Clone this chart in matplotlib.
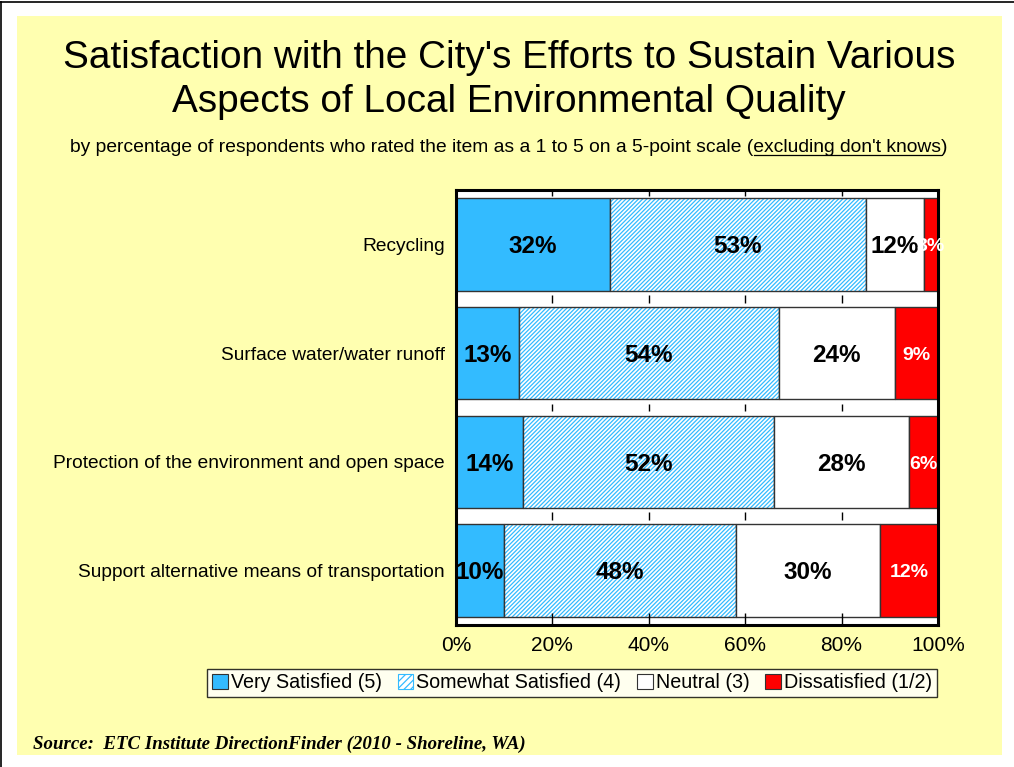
import matplotlib
matplotlib.use('Agg')
import matplotlib.pyplot as plt
from matplotlib.lines import Line2D
from matplotlib.patches import Rectangle, Patch
import numpy as np

categories = ['Recycling', 'Surface water/water runoff',
              'Protection of the environment and open space',
              'Support alternative means of transportation']
very_satisfied = [32, 13, 14, 10]
somewhat_satisfied = [53, 54, 52, 48]
neutral = [12, 24, 28, 30]
dissatisfied = [3, 9, 6, 12]
series_names = ['Very Satisfied (5)', 'Somewhat Satisfied (4)', 'Neutral (3)', 'Dissatisfied (1/2)']
xticks = [0, 20, 40, 60, 80, 100]

BLUE = '#33BBFF'
RED = '#FF0000'
YELLOW = '#FFFFB0'

plt.rcParams['font.family'] = ['Liberation Sans', 'DejaVu Sans']
plt.rcParams['hatch.linewidth'] = 0.9

fig = plt.figure(figsize=(10.14, 7.67), dpi=100)
fig.patch.set_facecolor('white')

# yellow panel and partial black frame
fig.patches.append(Rectangle((17 / 1014, 1 - 755 / 767), 985 / 1014, 739 / 767,
                             transform=fig.transFigure, facecolor=YELLOW, edgecolor='none', zorder=-10))
fig.lines.append(Line2D([0.001, 0.001], [0, 0.998], transform=fig.transFigure, color='black', lw=1.2))
fig.lines.append(Line2D([0, 1], [0.998, 0.998], transform=fig.transFigure, color='black', lw=1.2))

ax = fig.add_axes([456 / 1014, 1 - 625 / 767, 482 / 1014, 435 / 767])
ax.set_zorder(2)
ax.set_facecolor('white')

y = np.arange(len(categories))
h = 0.85
left = np.zeros(len(categories))
vs = np.array(very_satisfied)
ss = np.array(somewhat_satisfied)
ne = np.array(neutral)
di = np.array(dissatisfied)

ax.barh(y, vs, left=left, height=h, color=BLUE, edgecolor='#333333', linewidth=1)
left = left + vs
ax.barh(y, ss, left=left, height=h, color='white', edgecolor=BLUE, hatch='////////', linewidth=0)
ax.barh(y, ss, left=left, height=h, color='none', edgecolor='#333333', linewidth=1)
left2 = left + ss
ax.barh(y, ne, left=left2, height=h, color='white', edgecolor='#333333', linewidth=1)
left3 = left2 + ne
ax.barh(y, di, left=left3, height=h, color=RED, edgecolor='#333333', linewidth=1)

dy = 0.02  # labels sit slightly below bar centre
for i in range(len(categories)):
    ax.text(vs[i] / 2, y[i] + dy, f'{vs[i]}%', ha='center', va='center', fontsize=17.5, fontweight='bold')
    ax.text(left[i] + ss[i] / 2, y[i] + dy, f'{ss[i]}%', ha='center', va='center', fontsize=17.5, fontweight='bold')
    ax.text(left2[i] + ne[i] / 2, y[i] + dy, f'{ne[i]}%', ha='center', va='center', fontsize=17.5, fontweight='bold')
    ax.text(left3[i] + di[i] / 2, y[i] + dy, f'{di[i]}%', ha='center', va='center', fontsize=14,
            fontweight='bold', color='white', clip_on=False)

ax.set_xlim(0, 100)
ax.set_ylim(len(categories) - 0.5, -0.5)
ax.set_yticks(y)
ax.set_yticklabels(categories, fontsize=13.8)
ax.tick_params(axis='y', length=0, pad=8)
ax.set_xticks(xticks)
ax.set_xticklabels([f'{t}%' for t in xticks], fontsize=15)
ax.tick_params(axis='x', direction='in', length=9, width=1, top=True, pad=8)
for t in ax.xaxis.get_major_ticks():
    t.tick2line.set_markersize(4)

# small tick marks in the gaps between bars
for b in np.arange(0.5, len(categories) - 0.5, 1.0):
    ax.vlines(xticks[1:-1], b - 0.035, b + 0.035, color='black', lw=1)

for s in ax.spines.values():
    s.set_linewidth(2.2)
    s.set_color('black')

handles = [Patch(facecolor=BLUE, edgecolor='#333333', lw=0.8),
           Patch(facecolor='white', edgecolor=BLUE, hatch='/////', lw=0.8),
           Patch(facecolor='white', edgecolor='#333333', lw=0.8),
           Patch(facecolor=RED, edgecolor='#333333', lw=0.8)]
leg = fig.legend(handles, series_names, loc='center', bbox_to_anchor=(572 / 1014, 1 - 683 / 767),
                 ncol=4, fontsize=14.2, frameon=True, fancybox=False, edgecolor='black',
                 handlelength=0.8, handleheight=0.8, handletextpad=0.15, columnspacing=0.8,
                 borderpad=0.25, borderaxespad=0)
leg.get_frame().set_linewidth(1)
leg.get_frame().set_facecolor('white')

# titles
fig.text(509 / 1014, 1 - 68 / 767, "Satisfaction with the City's Efforts to Sustain Various",
         ha='center', va='baseline', fontsize=27.9)
fig.text(509 / 1014, 1 - 112 / 767, 'Aspects of Local Environmental Quality',
         ha='center', va='baseline', fontsize=27.9)

pre = 'by percentage of respondents who rated the item as a 1 to 5 on a 5-point scale ('
und = "excluding don't knows"
post = ')'
sub = fig.text(509 / 1014, 1 - 152 / 767, pre + und + post, ha='center', va='baseline', fontsize=13.9)
fig.canvas.draw()
r = fig.canvas.get_renderer()
bb = sub.get_window_extent(r)
tmp = fig.text(0, 0, pre, fontsize=13.9)
w_pre = tmp.get_window_extent(r).width
tmp.set_text(und)
w_und = tmp.get_window_extent(r).width
tmp.remove()
x0 = (bb.x0 + w_pre) / 1014
x1 = (bb.x0 + w_pre + w_und) / 1014
yl = 1 - 155 / 767
fig.lines.append(Line2D([x0, x1], [yl, yl], transform=fig.transFigure, color='black', lw=0.9))

fig.text(33 / 1014, 1 - 749 / 767, 'Source:  ETC Institute DirectionFinder (2010 - Shoreline, WA)',
         ha='left', va='baseline', fontsize=13.6, fontweight='bold', fontstyle='italic',
         family=['Liberation Serif', 'DejaVu Serif'])

fig.savefig('out.png', dpi=100)
